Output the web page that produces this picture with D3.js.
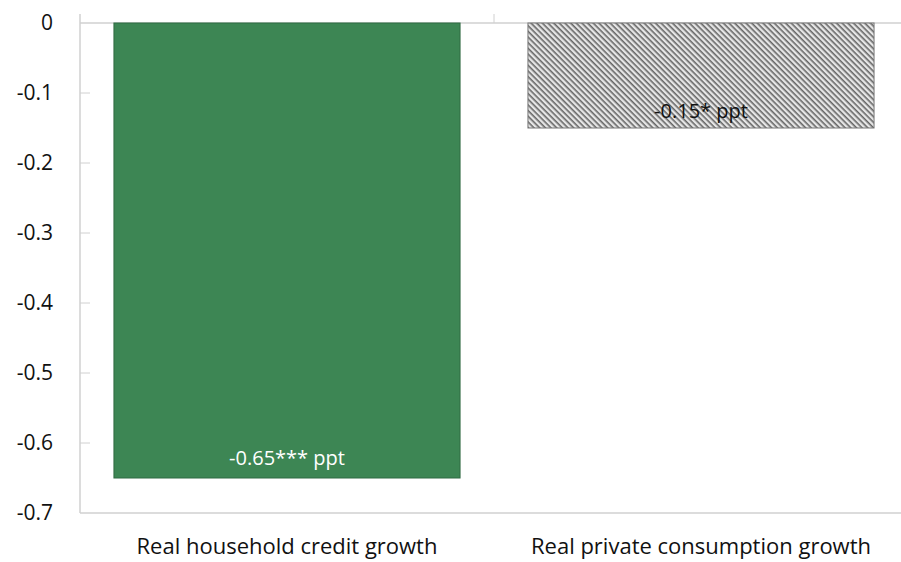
<!DOCTYPE html>
<html>
<head>
<meta charset="utf-8">
<script src="https://cdn.jsdelivr.net/npm/d3@7"></script>
<style>
  body { margin: 0; background: #fff; }
  text { font-family: 'Open Sans', 'Noto Sans', sans-serif; }
</style>
</head>
<body>
<script>
// Data
const categories = ['Real household credit growth', 'Real private consumption growth'];
const values = [-0.65, -0.15];
const barLabels = ['-0.65*** ppt', '-0.15* ppt'];
const yTicks = [0, -0.1, -0.2, -0.3, -0.4, -0.5, -0.6, -0.7];
const yTickLabels = ['0', '-0.1', '-0.2', '-0.3', '-0.4', '-0.5', '-0.6', '-0.7'];

const width = 901;
const height = 562;

const svg = d3.select('body').append('svg').attr('width', width).attr('height', height);

// Hatch pattern for the second bar
const defs = svg.append('defs');
const hatch = defs
  .append('pattern')
  .attr('id', 'hatch')
  .attr('patternUnits', 'userSpaceOnUse')
  .attr('width', 4)
  .attr('height', 4)
  .attr('patternTransform', 'rotate(45)');
hatch.append('rect').attr('width', 4).attr('height', 4).attr('fill', '#e6e6e6');
hatch.append('rect').attr('width', 4).attr('height', 1.6).attr('fill', '#666');

// Scales
const x = d3.scaleBand().domain(categories).range([80, 908]).paddingInner(0.164).paddingOuter(0.082);
const y = d3.scaleLinear().domain([-0.7, 0]).range([513, 23]);

// Axis lines
svg.append('line').attr('x1', 80).attr('x2', 80).attr('y1', 14).attr('y2', 513)
  .attr('stroke', '#d0d0d0').attr('stroke-width', 1.5);
svg.append('line').attr('x1', 80).attr('x2', width).attr('y1', y(0)).attr('y2', y(0))
  .attr('stroke', '#d0d0d0').attr('stroke-width', 1.5);
svg.append('line').attr('x1', 80).attr('x2', width).attr('y1', y(-0.7)).attr('y2', y(-0.7))
  .attr('stroke', '#d0d0d0').attr('stroke-width', 1.5);

// Category divider tick at the top
svg.append('line').attr('x1', 494).attr('x2', 494).attr('y1', 14).attr('y2', y(0))
  .attr('stroke', '#d0d0d0').attr('stroke-width', 1);

// Y ticks and labels
svg.selectAll('.ytick').data(yTicks.slice(1, -1)).enter().append('line')
  .attr('class', 'ytick')
  .attr('x1', 80).attr('x2', 90)
  .attr('y1', (d) => y(d)).attr('y2', (d) => y(d))
  .attr('stroke', '#d0d0d0').attr('stroke-width', 1);

svg.selectAll('.ylabel').data(yTicks).enter().append('text')
  .attr('class', 'ylabel')
  .attr('x', 53)
  .attr('y', (d) => y(d))
  .attr('dy', '0.35em')
  .attr('text-anchor', 'end')
  .attr('font-size', '21px')
  .attr('fill', '#111')
  .text((d, i) => yTickLabels[i]);

// Bars
svg.selectAll('.bar').data(values).enter().append('rect')
  .attr('class', 'bar')
  .attr('x', (d, i) => x(categories[i]))
  .attr('y', y(0))
  .attr('width', x.bandwidth())
  .attr('height', (d) => y(d) - y(0))
  .attr('fill', (d, i) => (i === 0 ? '#3d8654' : 'url(#hatch)'))
  .attr('stroke', (d, i) => (i === 0 ? '#2f6a42' : '#777'))
  .attr('stroke-width', 1);

// Bar labels
svg.selectAll('.blabel').data(values).enter().append('text')
  .attr('class', 'blabel')
  .attr('x', (d, i) => x(categories[i]) + x.bandwidth() / 2)
  .attr('y', (d, i) => y(d) - (i === 0 ? 20 : 17))
  .attr('dy', '0.35em')
  .attr('text-anchor', 'middle')
  .attr('font-size', '20px')
  .attr('fill', (d, i) => (i === 0 ? '#fff' : '#111'))
  .text((d, i) => barLabels[i]);

// Category labels
svg.selectAll('.xlabel').data(categories).enter().append('text')
  .attr('class', 'xlabel')
  .attr('x', (d) => x(d) + x.bandwidth() / 2)
  .attr('y', 554)
  .attr('text-anchor', 'middle')
  .attr('font-size', '22px')
  .attr('fill', '#111')
  .text((d) => d);
</script>
</body>
</html>
